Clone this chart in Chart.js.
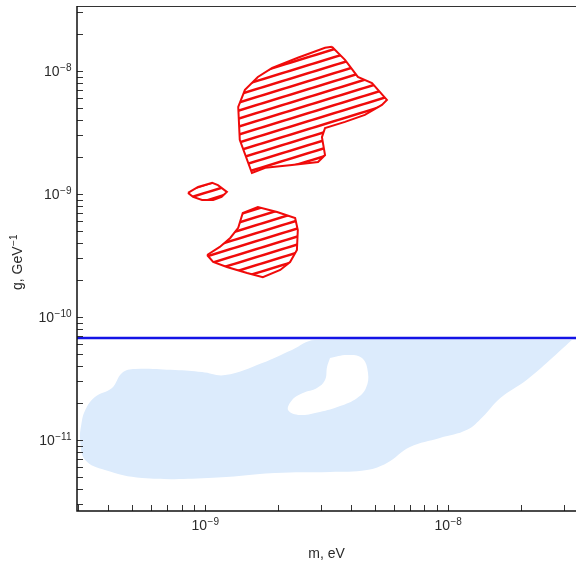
<!DOCTYPE html>
<html>
<head>
<meta charset="utf-8">
<script src="https://cdn.jsdelivr.net/npm/chart.js@4.4.1/dist/chart.umd.min.js"></script>
<style>
html, body { margin: 0; padding: 0; background: #fff; }
</style>
</head>
<body>
<canvas id="chart" width="576" height="564"></canvas>
<script>
// axis ranges and labelled ticks (base, exponent)
const xRange = [2.97e-10, 3.37e-8];
const yRange = [2.65e-12, 3.37e-8];
const xMajor = [1e-9, 1e-8];
const xMajorExp = ['−9', '−8'];
const yMajor = [1e-11, 1e-10, 1e-9, 1e-8];
const yMajorExp = ['−11', '−10', '−9', '−8'];
const xTitle = 'm, eV';
const yTitle = ['g, GeV', '−1'];

// horizontal limit
const lineG = 6.75e-11;

// light blue region (outline) and the hole inside it
const blueM = [3.24e-8, 2.63e-8, 2.11e-8, 1.64e-8, 1.39e-8, 1.20e-8, 9.27e-9, 6.98e-9, 5.61e-9, 4.64e-9,
  3.27e-9, 1.94e-9, 1.03e-9, 5.51e-10, 3.87e-10, 3.21e-10, 3.06e-10, 3.09e-10, 3.21e-10, 3.52e-10,
  4.14e-10, 4.55e-10, 5.15e-10, 7.53e-10, 9.72e-10, 1.21e-9, 1.72e-9, 2.28e-9, 2.84e-9];
const blueG = [6.5e-11, 4.47e-11, 3.08e-11, 2.19e-11, 1.54e-11, 1.21e-11, 1.04e-11, 8.77e-12, 6.50e-12, 5.70e-12,
  5.50e-12, 5.40e-12, 4.91e-12, 4.91e-12, 5.70e-12, 6.87e-12, 1.00e-11, 1.32e-11, 1.75e-11, 2.24e-11,
  2.65e-11, 3.51e-11, 3.78e-11, 3.71e-11, 3.57e-11, 3.37e-11, 4.23e-11, 5.40e-11, 6.5e-11];
const holeM = [3.27e-9, 3.84e-9, 4.43e-9, 4.69e-9, 4.60e-9, 4.22e-9, 3.60e-9, 2.97e-9, 2.46e-9, 2.20e-9,
  2.28e-9, 2.53e-9, 2.89e-9, 3.12e-9, 3.18e-9];
const holeG = [4.64e-11, 4.91e-11, 4.64e-11, 3.51e-11, 2.65e-11, 2.19e-11, 1.89e-11, 1.69e-11, 1.60e-11, 1.75e-11,
  2.11e-11, 2.41e-11, 2.65e-11, 3.08e-11, 3.92e-11];

// red hatched regions
const bigM = [3.33e-9, 3.77e-9, 4.26e-9, 4.87e-9, 5.61e-9, 5.35e-9, 4.55e-9, 3.77e-9, 3.12e-9, 3.03e-9,
  3.12e-9, 2.92e-9, 2.28e-9, 1.77e-9, 1.56e-9, 1.39e-9, 1.37e-9, 1.46e-9, 1.65e-9, 1.89e-9, 2.41e-9, 3.12e-9];
const bigG = [1.57e-8, 1.23e-8, 8.93e-9, 7.98e-9, 5.81e-9, 5.30e-9, 4.39e-9, 3.85e-9, 3.44e-9, 2.90e-9,
  2.07e-9, 1.82e-9, 1.72e-9, 1.63e-9, 1.48e-9, 2.75e-9, 5.09e-9, 7.01e-9, 8.93e-9, 1.06e-8, 1.28e-8, 1.54e-8];
const smallM = [8.51e-10, 9.36e-10, 1.07e-9, 1.13e-9, 1.23e-9, 1.17e-9, 1.08e-9, 9.72e-10, 8.93e-10];
const smallG = [1.02e-9, 1.14e-9, 1.23e-9, 1.18e-9, 1.04e-9, 9.46e-10, 8.93e-10, 8.93e-10, 9.46e-10];
const lowM = [1.02e-9, 1.15e-9, 1.27e-9, 1.37e-9, 1.43e-9, 1.65e-9, 1.98e-9, 2.35e-9, 2.41e-9, 2.39e-9,
  2.24e-9, 2.04e-9, 1.73e-9, 1.49e-9, 1.23e-9, 1.08e-9];
const lowG = [3.19e-10, 3.71e-10, 4.39e-10, 5.30e-10, 7.01e-10, 7.83e-10, 7.14e-10, 6.38e-10, 5.09e-10, 3.51e-10,
  2.80e-10, 2.41e-10, 2.11e-10, 2.28e-10, 2.55e-10, 2.80e-10];

const RED = 'rgb(240,10,10)';
const FONT = "'Liberation Sans', Arial, sans-serif";
const TXT = '#2a2a2a';

function closed(m, g) {
  const pts = m.map((v, i) => ({x: v, y: g[i]}));
  pts.push(pts[0]);
  return pts;
}

// minor ticks 1..9 per decade, kept inside the range
function decadeTicks(range) {
  const out = [];
  for (let e = Math.floor(Math.log10(range[0])); e <= Math.ceil(Math.log10(range[1])); e++) {
    for (let k = 1; k <= 9; k++) {
      const v = k * Math.pow(10, e);
      if (v >= range[0] && v <= range[1]) out.push(v);
    }
  }
  return out;
}

function hatch() {
  const c = document.createElement('canvas');
  c.width = 26; c.height = 8;
  const g = c.getContext('2d');
  g.strokeStyle = RED;
  g.lineWidth = 2.6;
  g.beginPath();
  for (let k = -1; k <= 1; k++) {
    g.moveTo(-1, 8 * k + 8.3);
    g.lineTo(27, 8 * k - 0.3);
  }
  g.stroke();
  return g.createPattern(c, 'repeat');
}

// "10" with a raised exponent; (x, y) = baseline of the base text
function power(ctx, exp, x, y, align) {
  ctx.font = '14px ' + FONT;
  const wb = ctx.measureText('10').width;
  ctx.font = '10px ' + FONT;
  const we = ctx.measureText(exp).width;
  let left = x;
  if (align === 'right') left = x - wb - we;
  if (align === 'center') left = x - (wb + we) / 2;
  ctx.font = '14px ' + FONT;
  ctx.fillText('10', left, y);
  ctx.font = '10px ' + FONT;
  ctx.fillText(exp, left + wb + 0.5, y - 5);
}

const frame = {
  id: 'frame',
  afterDraw(chart) {
    const {ctx, chartArea: a, scales: {x, y}} = chart;
    ctx.save();
    ctx.strokeStyle = '#333';
    ctx.lineWidth = 1;
    ctx.beginPath();
    x.ticks.forEach(t => {
      const px = Math.round(x.getPixelForValue(t.value)) + 0.5;
      ctx.moveTo(px, a.bottom); ctx.lineTo(px, a.bottom - 6);
    });
    y.ticks.forEach(t => {
      const py = Math.round(y.getPixelForValue(t.value)) + 0.5;
      ctx.moveTo(a.left, py); ctx.lineTo(a.left + 6, py);
    });
    ctx.moveTo(a.left, a.top + 0.5); ctx.lineTo(a.right, a.top + 0.5);
    ctx.stroke();
    ctx.strokeStyle = '#111';
    ctx.lineWidth = 1.5;
    ctx.beginPath();
    ctx.moveTo(a.left, a.top); ctx.lineTo(a.left, a.bottom); ctx.lineTo(a.right, a.bottom);
    ctx.stroke();

    // tick labels
    ctx.fillStyle = TXT;
    ctx.textBaseline = 'alphabetic';
    ctx.textAlign = 'left';
    xMajor.forEach((v, i) => power(ctx, xMajorExp[i], x.getPixelForValue(v), a.bottom + 19, 'center'));
    yMajor.forEach((v, i) => power(ctx, yMajorExp[i], a.left - 6, y.getPixelForValue(v) + 5, 'right'));

    // y title with superscript, rotated
    ctx.translate(22, (a.top + a.bottom) / 2 + 4);
    ctx.rotate(-Math.PI / 2);
    ctx.font = '14px ' + FONT;
    const w1 = ctx.measureText(yTitle[0]).width;
    ctx.font = '10px ' + FONT;
    const w2 = ctx.measureText(yTitle[1]).width;
    const left = -(w1 + w2) / 2;
    ctx.font = '14px ' + FONT;
    ctx.fillText(yTitle[0], left, 0);
    ctx.font = '10px ' + FONT;
    ctx.fillText(yTitle[1], left + w1 + 0.5, -5);
    ctx.restore();
  }
};

const pattern = hatch();
const region = (data, order) => ({
  data: data, showLine: true, pointRadius: 0, order: order, tension: 0,
  borderColor: RED, borderWidth: 2, backgroundColor: pattern, fill: 'shape'
});

new Chart(document.getElementById('chart'), {
  type: 'scatter',
  data: {
    datasets: [
      {data: closed(blueM, blueG), showLine: true, pointRadius: 0, order: 6, tension: 0.4,
        borderWidth: 0, borderColor: 'rgba(0,0,0,0)', backgroundColor: '#dcebfc', fill: 'shape'},
      {data: closed(holeM, holeG), showLine: true, pointRadius: 0, order: 5, tension: 0.4,
        borderWidth: 0, borderColor: 'rgba(0,0,0,0)', backgroundColor: '#ffffff', fill: 'shape'},
      {data: [{x: xRange[0], y: lineG}, {x: xRange[1], y: lineG}], showLine: true, pointRadius: 0,
        order: 4, borderColor: '#1414e6', borderWidth: 2.5, fill: false},
      region(closed(bigM, bigG), 1),
      region(closed(smallM, smallG), 2),
      region(closed(lowM, lowG), 3)
    ]
  },
  options: {
    responsive: false,
    animation: false,
    devicePixelRatio: 1,
    layout: {padding: {top: 6, right: 0, left: 0, bottom: 0}},
    plugins: {legend: {display: false}, tooltip: {enabled: false}},
    scales: {
      x: {
        type: 'logarithmic', min: xRange[0], max: xRange[1],
        grid: {display: false, drawTicks: false}, border: {display: false},
        afterBuildTicks: s => { s.ticks = decadeTicks(xRange).map(v => ({value: v})); },
        afterFit: s => { s.height = 53; },
        ticks: {display: false},
        title: {display: true, text: xTitle, color: TXT, font: {family: FONT, size: 14},
          padding: {top: 0, bottom: 1}}
      },
      y: {
        type: 'logarithmic', min: yRange[0], max: yRange[1],
        grid: {display: false, drawTicks: false}, border: {display: false},
        afterBuildTicks: s => { s.ticks = decadeTicks(yRange).map(v => ({value: v})); },
        afterFit: s => { s.width = 77; },
        ticks: {display: false}
      }
    }
  },
  plugins: [frame]
});
</script>
</body>
</html>
